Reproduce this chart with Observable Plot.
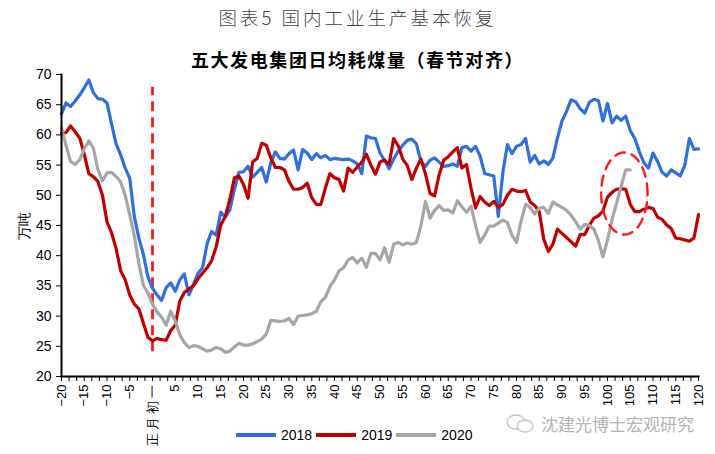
<!DOCTYPE html>
<html><head><meta charset="utf-8">
<script src="https://cdn.jsdelivr.net/npm/d3@7"></script>
<script src="https://cdn.jsdelivr.net/npm/@observablehq/plot@0.6"></script>
<style>
body{margin:0;background:#fff;width:715px;height:454px;overflow:hidden;position:relative;font-family:"Liberation Sans",Arial,sans-serif;}
#title{position:absolute;left:0;width:715px;top:4px;text-align:center;font-family:"Noto Sans CJK SC";font-size:18.5px;font-weight:300;color:#444;letter-spacing:3px;}
#subtitle{position:absolute;left:0;width:715px;top:46px;text-align:center;font-family:"Noto Sans CJK SC";font-weight:bold;font-size:18px;color:#000;letter-spacing:1.6px;}
#chart{position:absolute;left:0;top:66px;}
#legend{position:absolute;left:236px;top:427px;display:flex;align-items:center;font-size:14px;color:#000;}
#legend .sw{width:40px;height:4px;margin-right:5px;}
#legend .lb{margin-right:4px;}
#wm{position:absolute;left:505px;top:411px;display:flex;align-items:center;color:#b4b4b4;font-family:"Noto Sans CJK SC";font-size:17px;}
</style></head>
<body>
<div id="title">图表5 国内工业生产基本恢复</div>
<div id="subtitle">五大发电集团日均耗煤量（春节对齐）</div>
<div id="chart"></div>
<div id="wm"><svg width="32" height="22" viewBox="0 0 32 22"><ellipse cx="11" cy="9" rx="9" ry="7" fill="none" stroke="#c4c4c4" stroke-width="1.3"/><ellipse cx="20" cy="13" rx="8" ry="6" fill="#fff" stroke="#c4c4c4" stroke-width="1.3"/></svg><span style="margin-left:4px">沈建光博士宏观研究</span></div>
<div id="legend"></div>
<script>
const seriesNames = ["2018", "2019", "2020"];
const seriesColors = ["#2F6FDE", "#C00000", "#A6A6A6"];
const firstDay = -20;
const xTickValues = [-20,-15,-10,-5,0,5,10,15,20,25,30,35,40,45,50,55,60,65,70,75,80,85,90,95,100,105,110,115,120];
const yTickValues = [20,25,30,35,40,45,50,55,60,65,70];
const zeroLabel = "正\u2005月\u2005初\u2005一";

const v2018 = [63.5,65.3,64.7,65.6,66.6,67.8,69.1,67.0,66.0,65.9,65.3,61.8,58.5,56.7,54.5,52.8,46.5,42.9,40.2,36.5,
34.6,33.5,32.6,34.7,35.5,34.1,36.0,37.0,33.5,35.2,
37.1,38.0,42.0,44.0,43.4,47.2,46.4,47.6,51.0,53.8,
53.9,54.8,53.0,53.8,54.6,52.2,55.4,57.2,56.1,56.0,
56.9,57.5,54.2,57.6,57.0,55.9,56.9,56.2,56.6,55.9,
56.1,56.0,55.9,56.0,55.7,55.2,53.6,59.8,59.5,59.4,
57.0,55.8,54.4,56.0,57.3,58.3,59.1,59.3,58.5,55.6,
54.8,55.8,56.2,55.5,54.8,54.9,55.2,54.8,57.9,58.1,
57.3,58.1,56.5,53.6,53.4,53.2,46.5,53.8,58.4,56.9,
58.1,58.4,59.4,55.5,56.6,55.2,55.7,55.1,56.2,59.5,
62.3,63.9,65.8,65.5,64.3,63.6,65.4,65.9,65.7,62.3,
65.2,62.0,63.1,62.4,63.1,60.7,59.4,57.2,55.4,54.5,
57.0,55.6,53.8,53.2,54.2,53.7,53.2,55.0,59.4,57.6,
57.7];

const v2019 = [60.3,60.4,61.5,60.5,59.5,56.8,53.6,53.1,52.3,50.0,45.6,43.8,41.2,37.5,36.0,33.5,32.0,31.2,28.8,26.5,
25.9,26.3,26.1,26.0,27.6,28.5,32.5,33.9,34.5,35.0,
36.2,37.1,38.0,39.2,41.5,45.1,46.5,49.3,52.9,53.2,
51.8,49.5,55.5,56.1,58.6,58.3,56.2,54.6,54.6,54.2,
52.3,51.0,51.0,51.3,52.0,49.6,48.5,48.5,51.2,53.6,
52.9,52.6,50.7,54.5,53.8,54.7,55.5,56.8,55.0,53.5,
55.5,55.8,55.1,59.4,58.2,56.0,54.9,52.6,54.5,56.0,
53.5,50.3,49.9,53.4,55.8,56.4,57.2,57.9,54.5,55.1,
51.2,47.9,49.8,48.9,48.3,49.0,48.0,48.5,50.0,51.0,
50.7,50.6,50.8,48.9,48.3,47.3,42.7,40.7,41.9,44.4,
43.7,43.0,42.3,41.6,43.5,43.5,45.0,46.2,46.6,47.4,
49.7,50.5,51.0,51.1,51.0,48.5,47.3,47.3,47.7,48.0,
47.8,46.4,46.0,45.1,44.5,42.9,42.8,42.6,42.4,42.9,
46.8];

const v2020 = [61.2,58.2,55.6,55.1,55.9,57.7,59.0,57.8,54.3,52.4,53.7,53.8,53.1,52.2,50.0,46.8,43.3,38.7,35.1,33.8,
32.0,30.7,29.8,28.5,30.8,29.2,26.9,25.6,24.8,25.1,
25.0,24.6,24.2,24.4,24.8,24.6,24.0,24.2,24.9,25.5,
25.2,25.2,25.4,25.8,26.2,27.0,29.3,29.2,29.1,29.2,
29.6,28.6,30.0,30.1,30.2,30.4,30.8,32.4,33.1,34.9,
36.0,37.5,38.0,39.3,39.7,38.8,39.6,38.1,40.4,40.4,
39.3,41.3,38.9,41.9,42.2,41.8,42.1,41.9,42.2,45.0,
49.0,46.2,47.5,48.3,47.5,47.6,47.1,49.1,48.1,47.2,
48.2,45.0,42.2,43.4,44.9,44.9,45.4,45.9,45.5,43.4,
42.2,45.7,48.5,48.0,46.9,47.9,48.0,47.0,48.9,48.4,
48.0,47.5,46.7,45.6,44.4,45.2,45.0,44.4,42.5,39.8,
42.6,46.0,48.7,51.5,54.2,54.2];

// annotations
const springFestivalMarker = {day: 0, low: 24.1, high: 67.9};
const highlightEllipse = {day: 103.7, value: 50.3, rDays: 5.1, rValue: 6.8};

const allValues = [v2018, v2019, v2020];
const rows = [];
allValues.forEach((arr, s) => arr.forEach((v, i) => rows.push({series: seriesNames[s], day: firstDay + i, value: v})));

const ellipsePts = d3.range(0, 2 * Math.PI + 0.01, Math.PI / 60).map(t => ({
  day: highlightEllipse.day + highlightEllipse.rDays * Math.cos(t),
  value: highlightEllipse.value + highlightEllipse.rValue * Math.sin(t)
}));

const minorTicks = d3.range(-20, 120.001, 5 / 3);

const chart = Plot.plot({
  width: 715, height: 388,
  marginLeft: 61, marginRight: 17, marginTop: 8, marginBottom: 78,
  style: {fontFamily: "'Liberation Sans', Arial, sans-serif", fontSize: "14px", color: "#000", background: "transparent"},
  x: {domain: [-20, 120]},
  y: {domain: [20, 70]},
  color: {domain: seriesNames, range: seriesColors},
  marks: [
    Plot.axisY({ticks: yTickValues, tickSize: 5, tickPadding: 5, tickFormat: d => String(d), fontSize: 14,
      label: "万吨", labelAnchor: "center", labelArrow: "none", labelOffset: 42}),
    Plot.axisX({ticks: minorTicks, tickSize: 5, text: null, label: null}),
    Plot.axisX({ticks: xTickValues, tickSize: 0, tickPadding: 8, tickRotate: -90, fontSize: 13,
      tickFormat: d => d === 0 ? zeroLabel : (d < 0 ? "\u2212" + Math.abs(d) : String(d)), label: null}),
    Plot.ruleX([springFestivalMarker], {x: "day", y1: "low", y2: "high", stroke: "#FF1A1A", strokeWidth: 2.8, strokeDasharray: "10,6"}),
    Plot.line(rows, {x: "day", y: "value", z: "series", stroke: "series", strokeWidth: 3.2, strokeLinejoin: "round"}),
    Plot.line(ellipsePts, {x: "day", y: "value", stroke: "#FF1A1A", strokeWidth: 2.4, strokeDasharray: "10,7"}),
    Plot.frame({anchor: "left", stroke: "#000", strokeWidth: 2}),
    Plot.frame({anchor: "bottom", stroke: "#000", strokeWidth: 2})
  ]
});
document.getElementById("chart").appendChild(chart);

const legend = document.getElementById("legend");
seriesNames.forEach((n, i) => {
  const sw = document.createElement("div"); sw.className = "sw"; sw.style.background = seriesColors[i];
  const lb = document.createElement("span"); lb.className = "lb"; lb.textContent = n;
  legend.appendChild(sw); legend.appendChild(lb);
});
</script>
</body></html>
